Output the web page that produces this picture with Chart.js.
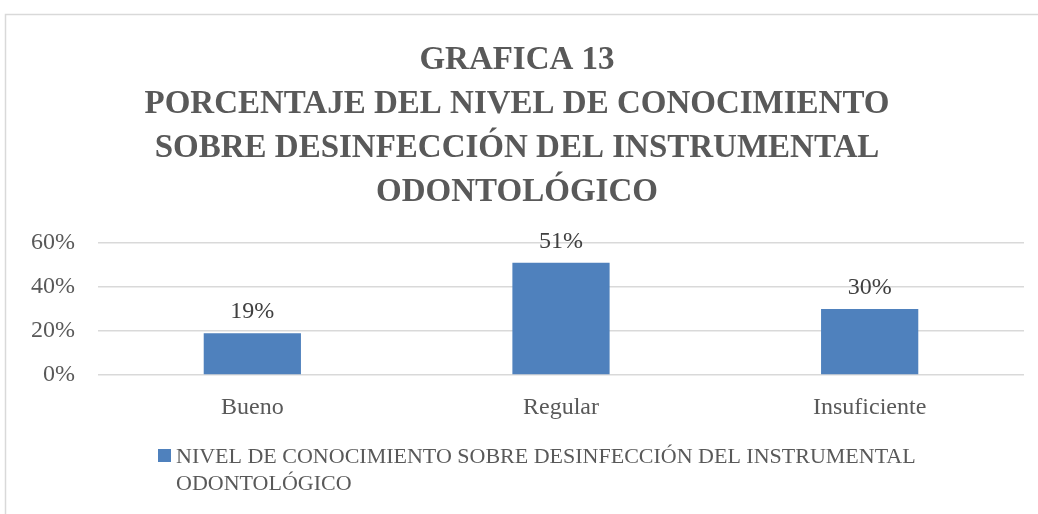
<!DOCTYPE html>
<html>
<head>
<meta charset="utf-8">
<script src="https://cdn.jsdelivr.net/npm/chart.js@4.4.0/dist/chart.umd.min.js"></script>
<style>
  html, body { margin: 0; padding: 0; background: #fff; }
  #wrap { width: 1038px; height: 514px; position: relative; }
</style>
</head>
<body>
<div id="wrap"><canvas id="chart"></canvas></div>
<script>
const categories = ['Bueno', 'Regular', 'Insuficiente'];
const values = [0.19, 0.51, 0.30];
const yTicks = [0, 0.2, 0.4, 0.6];
const seriesLabel = 'NIVEL DE CONOCIMIENTO SOBRE DESINFECCIÓN DEL INSTRUMENTAL ODONTOLÓGICO';
const titleLines = [
  'GRAFICA 13',
  'PORCENTAJE DEL NIVEL DE CONOCIMIENTO',
  'SOBRE DESINFECCIÓN DEL INSTRUMENTAL',
  'ODONTOLÓGICO'
];

const serif = '"Liberation Serif", "DejaVu Serif", serif';
const textColor = '#595959';

// frame around the chart, as in the office export
const framePlugin = {
  id: 'frame',
  beforeDraw(chart) {
    const ctx = chart.ctx;
    ctx.save();
    ctx.fillStyle = '#fff';
    ctx.fillRect(0, 0, chart.width, chart.height);
    ctx.strokeStyle = '#d9d9d9';
    ctx.lineWidth = 1.5;
    ctx.strokeRect(5.5, 14.5, chart.width + 20, chart.height + 20);
    ctx.restore();
  }
};

// value labels above each bar
const valueLabels = {
  id: 'valueLabels',
  afterDatasetsDraw(chart) {
    const ctx = chart.ctx;
    const meta = chart.getDatasetMeta(0);
    ctx.save();
    ctx.font = '24px ' + serif;
    ctx.fillStyle = '#404040';
    ctx.textAlign = 'center';
    ctx.textBaseline = 'alphabetic';
    meta.data.forEach((bar, i) => {
      ctx.fillText(Math.round(values[i] * 100) + '%', bar.x, bar.y - 15);
    });
    ctx.restore();
  }
};

// legend with wrapped text
const wrappedLegend = {
  id: 'wrappedLegend',
  afterDraw(chart) {
    const ctx = chart.ctx;
    const ds = chart.data.datasets[0];
    ctx.save();
    ctx.fillStyle = ds.backgroundColor;
    ctx.fillRect(158, 449, 13, 13);
    ctx.font = '22px ' + serif;
    ctx.fillStyle = textColor;
    ctx.textAlign = 'left';
    ctx.textBaseline = 'middle';
    const words = ds.label.split(' ');
    const maxW = 780;
    let line = '';
    let y = 457;
    words.forEach(w => {
      const test = line ? line + ' ' + w : w;
      if (ctx.measureText(test).width > maxW && line) {
        ctx.fillText(line, 176, y);
        line = w;
        y += 27;
      } else {
        line = test;
      }
    });
    if (line) ctx.fillText(line, 176, y);
    ctx.restore();
  }
};

new Chart(document.getElementById('chart'), {
  type: 'bar',
  data: {
    labels: categories,
    datasets: [{
      label: seriesLabel,
      data: values,
      backgroundColor: '#4f81bd',
      barPercentage: 0.63,
      categoryPercentage: 0.5
    }]
  },
  options: {
    responsive: true,
    maintainAspectRatio: false,
    animation: false,
    layout: { padding: { left: 10, right: 14, top: 20, bottom: 91 } },
    scales: {
      y: {
        min: 0,
        max: 0.6,
        afterBuildTicks(scale) {
          scale.ticks = yTicks.map(v => ({ value: v }));
        },
        afterFit(scale) { scale.width = 88; },
        border: { display: false },
        grid: { color: '#d9d9d9', lineWidth: 1.5, drawTicks: false },
        ticks: {
          padding: 23,
          color: textColor,
          font: { family: serif, size: 24 },
          callback: v => Math.round(v * 100) + '%'
        }
      },
      x: {
        border: { display: false },
        grid: { display: false },
        afterFit(scale) { scale.height = 48; },
        ticks: {
          padding: 10,
          color: textColor,
          font: { family: serif, size: 24 }
        }
      }
    },
    plugins: {
      legend: { display: false },
      tooltip: { enabled: false },
      title: {
        display: true,
        text: titleLines,
        color: textColor,
        font: { family: serif, size: 33, weight: 'bold', lineHeight: 1.34 },
        padding: { top: 18, bottom: 28 }
      }
    }
  },
  plugins: [framePlugin, valueLabels, wrappedLegend]
});
</script>
</body>
</html>
